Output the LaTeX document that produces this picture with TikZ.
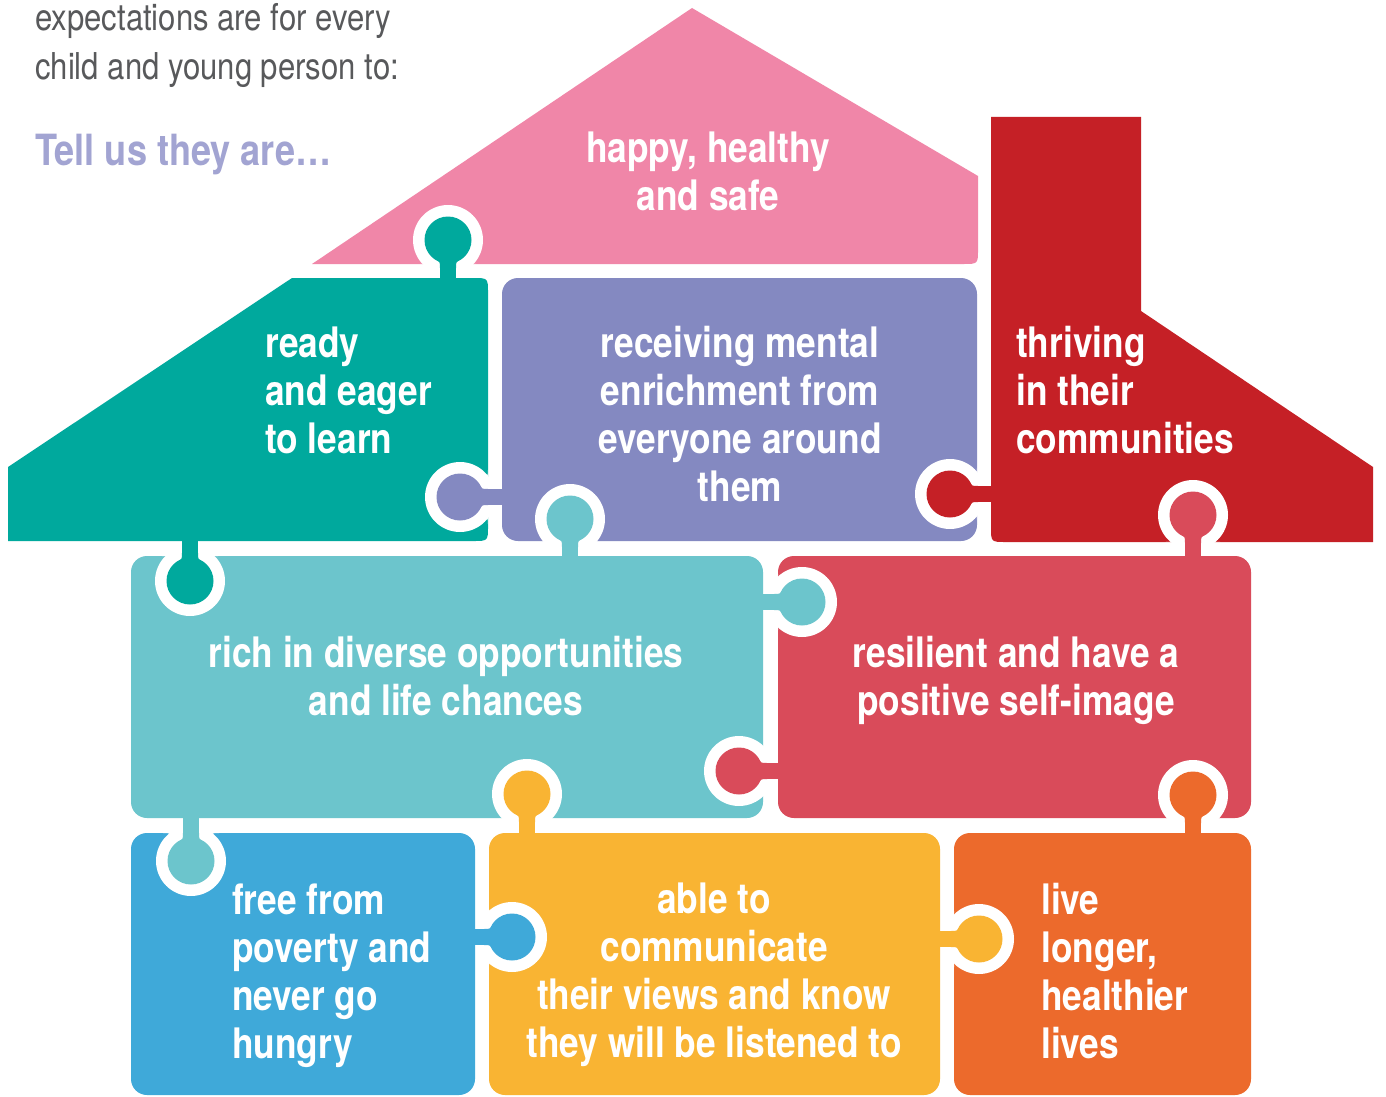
\documentclass[tikz,border=0pt]{standalone}
\usepackage{fontspec}
\setmainfont{TeX Gyre Heros}[FakeStretch=0.84]
\definecolor{pinkc}{HTML}{F086A8}
\definecolor{tealc}{HTML}{00A99D}
\definecolor{purplec}{HTML}{8489C1}
\definecolor{redc}{HTML}{C52026}
\definecolor{cyanc}{HTML}{6CC5CC}
\definecolor{crimsonc}{HTML}{D94B5A}
\definecolor{bluec}{HTML}{3FA9D9}
\definecolor{yellowc}{HTML}{F9B433}
\definecolor{orangec}{HTML}{EC6A2C}
\definecolor{headgray}{HTML}{58595B}
\definecolor{lavender}{HTML}{A2A4D2}
% vertical knob: cx, cy, A edge (y), B edge (y), colour
\newcommand\knobV[5]{%
  \fill[white] (#1,#2) circle[radius=35pt];
  \fill[white] ({#1-20},#2) rectangle ({#1+20},#4);
  \fill[white] ({#1+20},#4) -- ({#1+28},#4) .. controls ({#1+20},#4) .. ({#1+20},{#4+8*sign(#2-#4)}) -- cycle;
  \fill[white] ({#1-20},#4) -- ({#1-28},#4) .. controls ({#1-20},#4) .. ({#1-20},{#4+8*sign(#2-#4)}) -- cycle;
  \fill[#5] (#1,#2) circle[radius=23.5pt];
  \fill[#5] ({#1-8},#2) rectangle ({#1+8},#3);
  \fill[#5] ({#1+8},{#2+28*sign(#3-#2)}) -- ({#1+8},{#2+21.6*sign(#3-#2)}) -- ({#1+14},{#2+18.3*sign(#3-#2)}) .. controls ({#1+8},{#2+21.6*sign(#3-#2)}) .. ({#1+8},{#2+28*sign(#3-#2)}) -- cycle;
  \fill[#5] ({#1-8},{#2+28*sign(#3-#2)}) -- ({#1-8},{#2+21.6*sign(#3-#2)}) -- ({#1-14},{#2+18.3*sign(#3-#2)}) .. controls ({#1-8},{#2+21.6*sign(#3-#2)}) .. ({#1-8},{#2+28*sign(#3-#2)}) -- cycle;
}
% horizontal knob: cx, cy, A edge (x), B edge (x), colour
\newcommand\knobH[5]{%
  \fill[white] (#1,#2) circle[radius=35pt];
  \fill[white] (#1,{#2-20}) rectangle (#4,{#2+20});
  \fill[white] (#4,{#2+20}) -- (#4,{#2+28}) .. controls (#4,{#2+20}) .. ({#4+8*sign(#1-#4)},{#2+20}) -- cycle;
  \fill[white] (#4,{#2-20}) -- (#4,{#2-28}) .. controls (#4,{#2-20}) .. ({#4+8*sign(#1-#4)},{#2-20}) -- cycle;
  \fill[#5] (#1,#2) circle[radius=23.5pt];
  \fill[#5] (#1,{#2-8}) rectangle (#3,{#2+8});
  \fill[#5] ({#1+28*sign(#3-#1)},{#2+8}) -- ({#1+21.6*sign(#3-#1)},{#2+8}) -- ({#1+18.3*sign(#3-#1)},{#2+14}) .. controls ({#1+21.6*sign(#3-#1)},{#2+8}) .. ({#1+28*sign(#3-#1)},{#2+8}) -- cycle;
  \fill[#5] ({#1+28*sign(#3-#1)},{#2-8}) -- ({#1+21.6*sign(#3-#1)},{#2-8}) -- ({#1+18.3*sign(#3-#1)},{#2-14}) .. controls ({#1+21.6*sign(#3-#1)},{#2-8}) .. ({#1+28*sign(#3-#1)},{#2-8}) -- cycle;
}
\begin{document}
\begin{tikzpicture}[x=1pt,y=-1pt,
  piecetext/.style={text=white, font=\bfseries\fontsize{42}{48}\selectfont, inner sep=0pt}]
\useasboundingbox (0,0) rectangle (1386,1097);
\fill[white] (0,0) rectangle (1386,1097);
% pieces
\fill[pinkc] (312,264) -- (692,8) -- (978,176) -- (978,249) .. controls (978,264) .. (963,264) -- cycle;
\fill[tealc] (8,467) -- (292,278) -- (473,278) .. controls (488,278) .. (488,293) -- (488,526) .. controls (488,541) .. (473,541) -- (8,541) -- cycle;
\fill[purplec, rounded corners=16pt] (502,278) rectangle (977,541);
\fill[redc] (991,117) -- (1141,117) -- (1141,311) -- (1373,467) -- (1373,542) -- (1006,542) .. controls (991,542) .. (991,527) -- cycle;
\fill[cyanc, rounded corners=16pt] (131,556) rectangle (763,818);
\fill[crimsonc, rounded corners=16pt] (778,556) rectangle (1251,818);
\fill[bluec, rounded corners=16pt] (131,833) rectangle (475,1095);
\fill[yellowc, rounded corners=16pt] (489,833) rectangle (940,1095);
\fill[orangec, rounded corners=16pt] (954,833) rectangle (1251,1095);
% knobs
\knobV{448}{240}{280}{264}{tealc}
\knobH{460}{497}{504}{488}{purplec}
\knobV{570}{519}{558}{541}{cyanc}
\knobH{950}{494}{993}{977}{redc}
\knobV{1193}{515}{558}{542}{crimsonc}
\knobV{190}{581}{539}{556}{tealc}
\knobH{802}{602}{761}{778}{cyanc}
\knobH{739}{771}{780}{763}{crimsonc}
\knobV{527}{794}{835}{818}{yellowc}
\knobV{191}{861}{816}{833}{cyanc}
\knobH{512}{937}{473}{489}{bluec}
\knobH{979}{939}{938}{954}{yellowc}
\knobV{1193}{795}{835}{818}{orangec}
% texts
\node[anchor=north west, inner sep=0pt, text=headgray, font=\fontsize{37}{49}\selectfont, align=left] (intro) at (35,3) {expectations are for every\\child and young person to:};
\node[anchor=base west, inner sep=0pt, text=lavender, font=\bfseries\fontsize{43}{48}\selectfont] (tellus) at (35,165) {Tell us they are…};
\node[piecetext, align=center] (happy) at (708,171) {happy, healthy\\and safe};
\node[piecetext, align=left, anchor=west] (ready) at (265,390) {ready\\and eager\\to learn};
\node[piecetext, align=center] (mental) at (740,414) {receiving mental\\enrichment from\\everyone around\\them};
\node[piecetext, align=left, anchor=west] (thriving) at (1016,390) {thriving\\in their\\communities};
\node[piecetext, align=center] (rich) at (446,676) {rich in diverse opportunities\\and life chances};
\node[piecetext, align=center] (resilient) at (1016,680) {resilient and have a\\positive self-image};
\node[piecetext, align=left, anchor=west] (poverty) at (232,976) {free from\\poverty and\\never go\\hungry};
\node[piecetext, align=center] (communicate) at (714,975) {able to\\communicate\\their views and know\\they will be listened to};
\node[piecetext, align=left, anchor=west] (live) at (1041,971) {live\\longer,\\healthier\\lives};
\end{tikzpicture}
\end{document}
